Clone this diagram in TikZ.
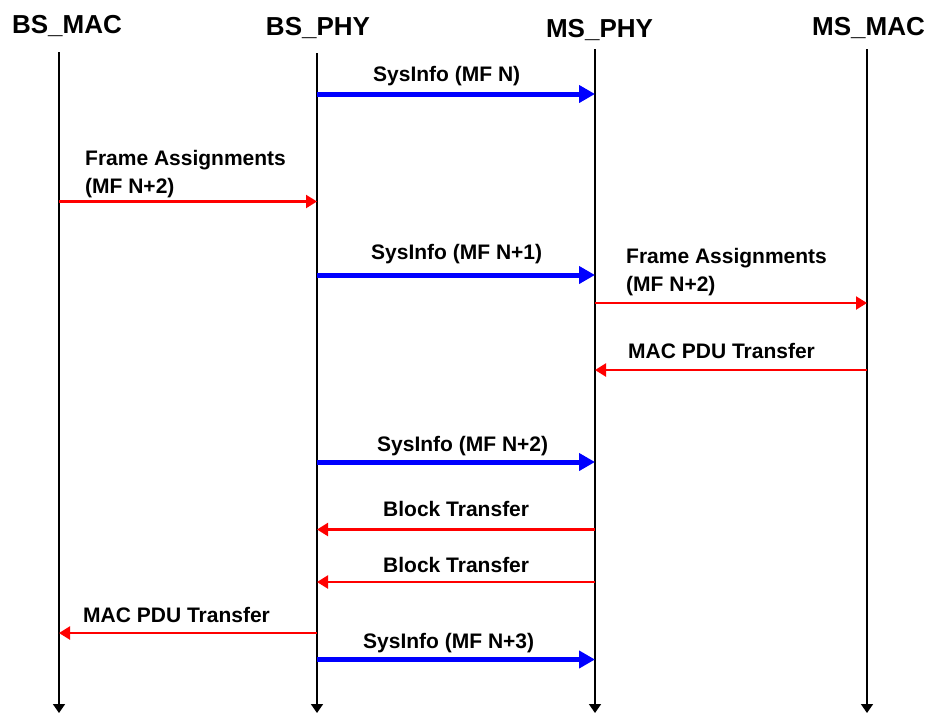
\documentclass[tikz,border=0pt]{standalone}
\usepackage{fontspec}
\setmainfont{Liberation Sans}
\usetikzlibrary{arrows.meta}
\tikzset{
  hdr/.style={font=\fontsize{26}{30}\selectfont\bfseries, inner sep=0pt, anchor=base},
  lbl/.style={font=\fontsize{21}{28}\selectfont\bfseries, inner sep=0pt, anchor=base west, align=left},
  life/.style={line width=1.6pt, -{Triangle[length=9pt,width=12pt]}},
  sysmsg/.style={blue, line width=5pt, -{Triangle[length=16pt,width=17pt]}},
  macmsg/.style={red, line width=2.2pt, -{Triangle[length=11pt,width=13pt]}}
}
\begin{document}
\begin{tikzpicture}[x=1pt,y=-1pt]
\useasboundingbox (0,0) rectangle (926,713);
% entities
\node[hdr] (bsmac) at (67,33) {BS\_MAC};
\node[hdr] (bsphy) at (318,35) {BS\_PHY};
\node[hdr] (msphy) at (599.5,37) {MS\_PHY};
\node[hdr] (msmac) at (868.5,35) {MS\_MAC};
\foreach \n/\x/\t in {bsmac/59/52, bsphy/317/53, msphy/595/49, msmac/867/49}
{
\coordinate (\n-top) at (\x,\t);
\coordinate (\n-end) at (\x,713);
\draw[life] (\n-top) -- (\n-end);
}
% messages
\draw[sysmsg] (bsphy-top |- 0,94) -- (msphy-top |- 0,94);
\node[lbl] (si0) at (373,81) {SysInfo (MF N)};
\draw[macmsg] (bsmac-top |- 0,201.5) -- (bsphy-top |- 0,201.5);
\node[lbl] (fa0) at (85,193) {Frame Assignments\\(MF N+2)};
\draw[sysmsg] (bsphy-top |- 0,275) -- (msphy-top |- 0,275);
\node[lbl] (si1) at (371,259.5) {SysInfo (MF N+1)};
\draw[macmsg] (msphy-top |- 0,303) -- (msmac-top |- 0,303);
\node[lbl] (fa1) at (626,291) {Frame Assignments\\(MF N+2)};
\draw[macmsg] (msmac-top |- 0,370) -- (msphy-top |- 0,370);
\node[lbl] (pdu0) at (628,358) {MAC PDU Transfer};
\draw[sysmsg] (bsphy-top |- 0,462) -- (msphy-top |- 0,462);
\node[lbl] (si2) at (377,451.5) {SysInfo (MF N+2)};
\draw[macmsg] (msphy-top |- 0,529.5) -- (bsphy-top |- 0,529.5);
\node[lbl] (blk0) at (383,516.7) {Block Transfer};
\draw[macmsg] (msphy-top |- 0,582) -- (bsphy-top |- 0,582);
\node[lbl] (blk1) at (383,572.7) {Block Transfer};
\draw[macmsg] (bsphy-top |- 0,633) -- (bsmac-top |- 0,633);
\node[lbl] (pdu1) at (83,622.7) {MAC PDU Transfer};
\draw[sysmsg] (bsphy-top |- 0,659.5) -- (msphy-top |- 0,659.5);
\node[lbl] (si3) at (363,648.3) {SysInfo (MF N+3)};
\end{tikzpicture}
\end{document}
